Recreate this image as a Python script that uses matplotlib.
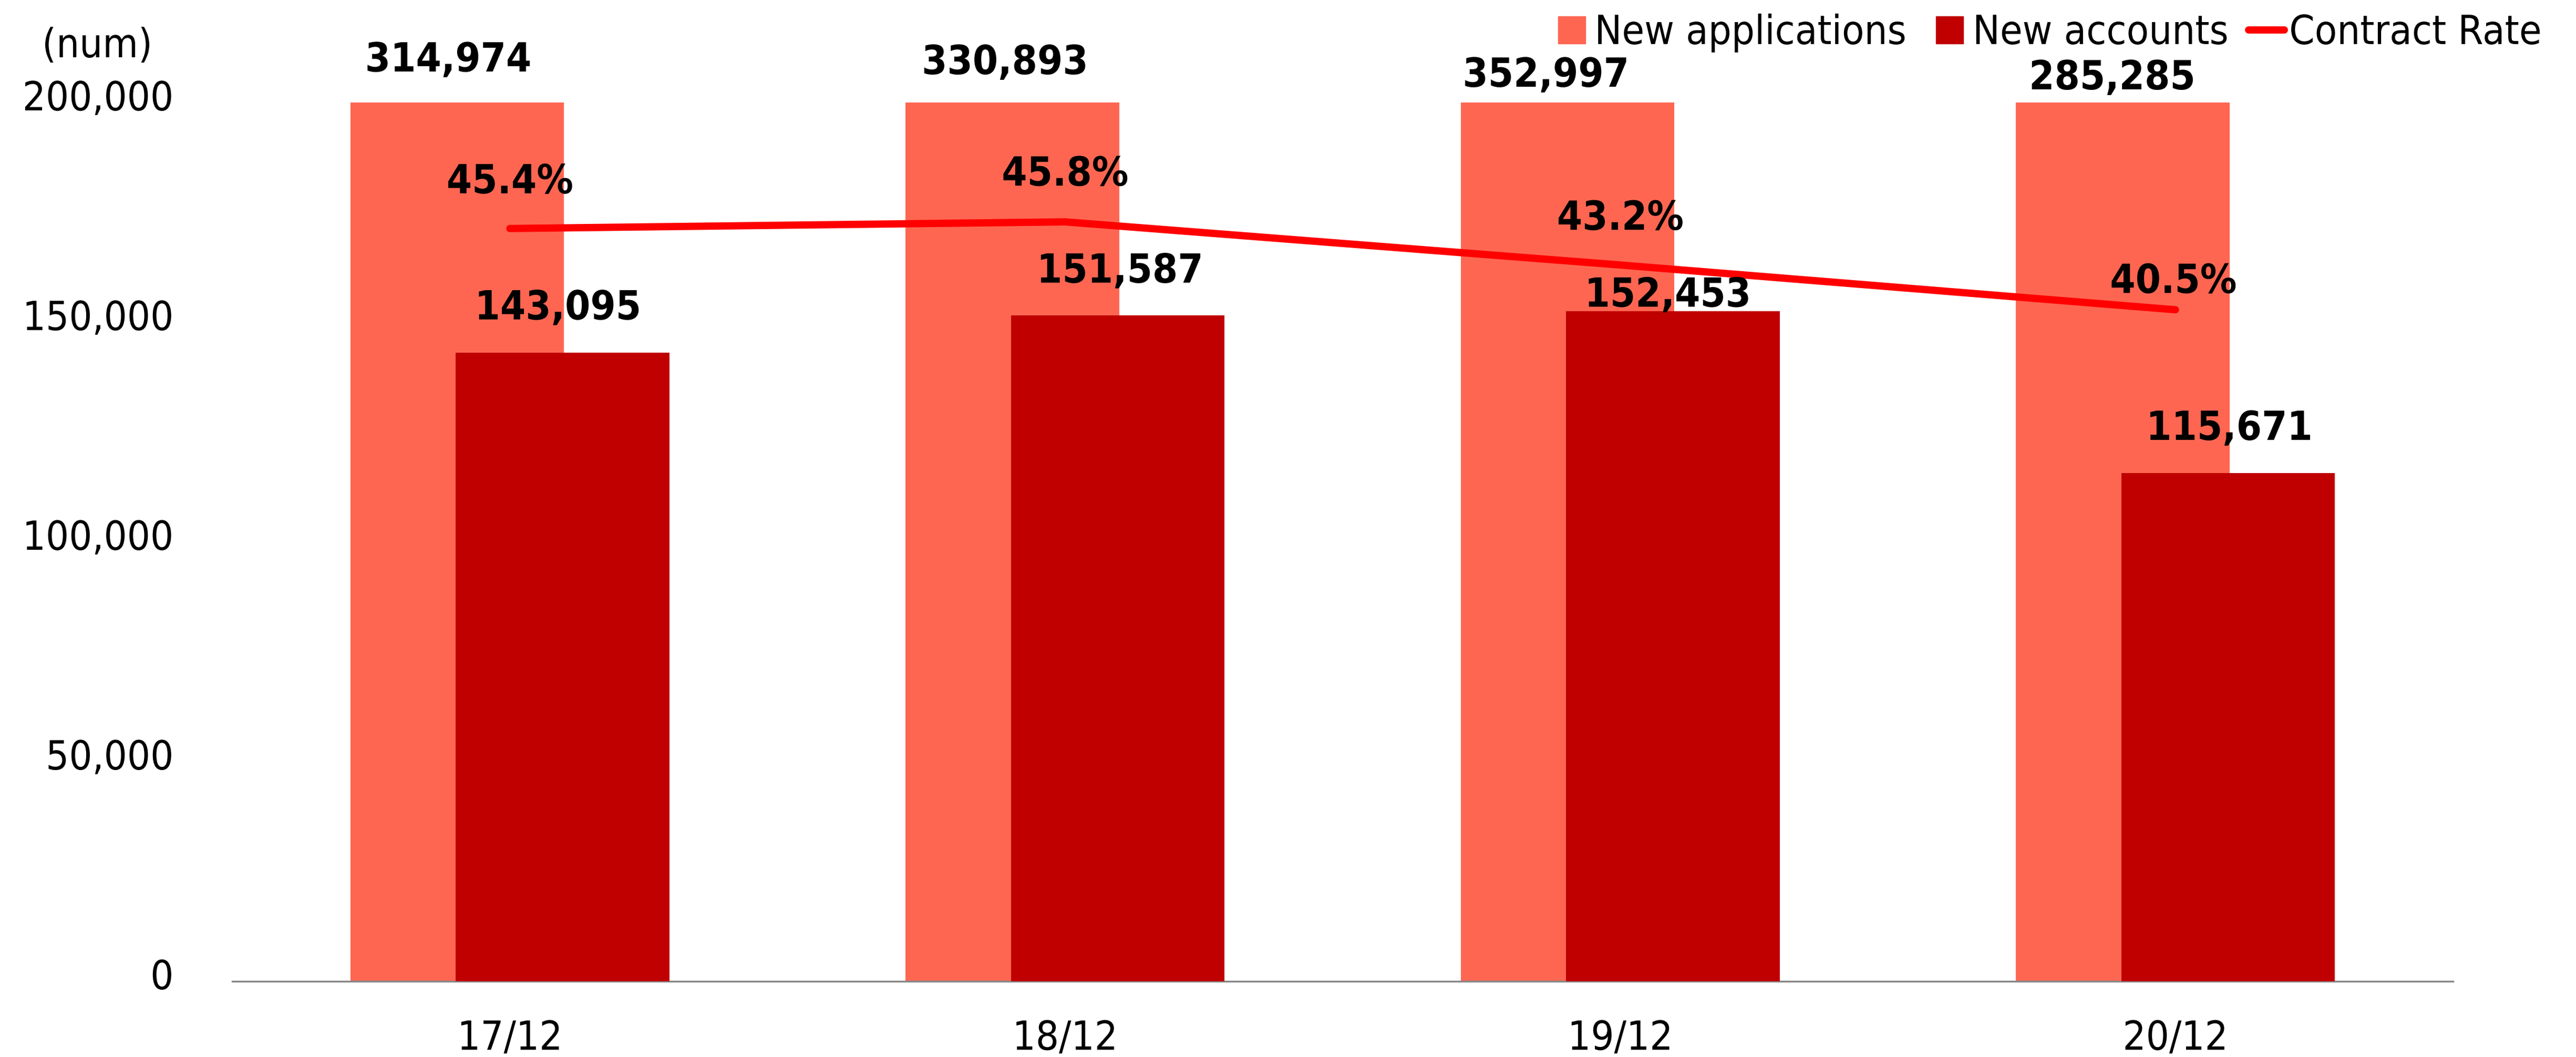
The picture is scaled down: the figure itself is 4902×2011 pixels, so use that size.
import numpy as np
import matplotlib
matplotlib.use('Agg')
import matplotlib.pyplot as plt
import matplotlib.patheffects as pe
from matplotlib.transforms import Affine2D, ScaledTranslation
from matplotlib.lines import Line2D
from matplotlib.ticker import FuncFormatter

# datos
periods = ['17/12', '18/12', '19/12', '20/12']
new_applications = [314974, 330893, 352997, 285285]
new_accounts = [143095, 151587, 152453, 115671]
contract_rate = [45.4, 45.8, 43.2, 40.5]

# colores
c_app = '#FF6652'
c_acc = '#C00000'
c_line = '#FF0000'

# ajustes de etiquetas (dx, dy en pixeles)
app_lbl_off = [(-17, 59), (-14, 54), (-41, 30), (-20, 25)]
acc_lbl_off = [(-9, 63), (4, 62), (-10, 9), (2, 63)]
pct_lbl_off = [(0, 67), (0, 69), (0, 67), (-4, 32)]


class Condense(pe.AbstractPathEffect):
    """Estrecha el texto en horizontal (la fuente original es condensada)."""
    def __init__(self, sx=0.91, anchor='center'):
        super().__init__()
        self.sx = sx
        self.anchor = anchor

    def draw_path(self, renderer, gc, tpath, affine, rgbFace=None):
        ext = tpath.get_extents(affine)
        if self.anchor == 'left':
            cx = ext.x0
        elif self.anchor == 'right':
            cx = ext.x1
        else:
            cx = (ext.x0 + ext.x1) / 2
        aff = affine + Affine2D().translate(-cx, 0).scale(self.sx, 1).translate(cx, 0)
        renderer.draw_path(gc, tpath, aff, rgbFace)


plt.rcParams['font.family'] = ['DejaVu Sans']
FS = 55
SX = 0.91

fig = plt.figure(figsize=(49.02, 20.11), dpi=100)
ax = fig.add_axes([442/4902, 1-1867/2011, (4668-442)/4902, (1867-195)/2011])

x = np.arange(len(periods))
w = 0.385
off = 0.095
ax.bar(x - off, new_applications, w, color=c_app, zorder=2)
ax.bar(x + off, new_accounts, w, color=c_acc, zorder=3)

ymax = 200000
ax.set_ylim(0, ymax)
ax.set_xlim(-0.5, len(periods) - 0.5)
ax.set_yticks(np.arange(0, ymax + 1, 50000))
ax.yaxis.set_major_formatter(FuncFormatter(lambda v, p: f'{int(v):,}'))
ax.set_xticks(x)
ax.set_xticklabels(periods)
ax.tick_params(axis='y', length=0, pad=80, labelsize=FS)
ax.tick_params(axis='x', length=0, pad=52, labelsize=FS)
for s in ['top', 'right', 'left']:
    ax.spines[s].set_visible(False)
ax.spines['bottom'].set_color('#888888')
ax.spines['bottom'].set_linewidth(2.5)

# subir un poco las etiquetas del eje y
shift = ScaledTranslation(0, 14/100, fig.dpi_scale_trans)
for lbl in ax.get_yticklabels():
    lbl.set_transform(lbl.get_transform() + shift)
    lbl.set_path_effects([Condense(SX, 'right')])
for lbl in ax.get_xticklabels():
    lbl.set_path_effects([Condense(SX)])

# tasa de contrato en eje secundario
ax2 = ax.twinx()
ax2.set_ylim(0, 53)
ax2.plot(x, contract_rate, color=c_line, lw=10, solid_capstyle='round', zorder=4)
ax2.axis('off')

# etiquetas de datos
lbl_kw = dict(textcoords='offset pixels', ha='center', va='baseline', fontsize=FS,
              fontweight='bold', annotation_clip=False, zorder=5,
              path_effects=[Condense(SX)])
for i in range(len(periods)):
    dx, dy = app_lbl_off[i]
    ax2.annotate(f'{new_applications[i]:,}', xy=(x[i] - off, min(new_applications[i], ymax)),
                 xycoords=ax.transData, xytext=(dx, dy), **lbl_kw)
    dx, dy = acc_lbl_off[i]
    ax2.annotate(f'{new_accounts[i]:,}', xy=(x[i] + off, new_accounts[i]),
                 xycoords=ax.transData, xytext=(dx, dy), **lbl_kw)
    dx, dy = pct_lbl_off[i]
    ax2.annotate(f'{contract_rate[i]:.1f}%', xy=(x[i], contract_rate[i]),
                 xytext=(dx, dy), **lbl_kw)

fig.text(185/4902, 1-88/2011, '(num)', ha='center', va='center', fontsize=FS,
         path_effects=[Condense(SX)])

handles = [
    Line2D([], [], marker='s', ls='none', color=c_app, markersize=37),
    Line2D([], [], marker='s', ls='none', color=c_acc, markersize=37),
    Line2D([], [], color=c_line, lw=10, solid_capstyle='round'),
]
leg = fig.legend(handles, ['New applications', 'New accounts', 'Contract Rate'],
                 loc='upper right', bbox_to_anchor=(4930/4902, 1 + 20/2011), ncol=3,
                 frameon=False, fontsize=FS, handlelength=0.88, handletextpad=0.12,
                 columnspacing=-0.12, borderpad=0.1)
for t in leg.get_texts():
    t.set_path_effects([Condense(SX, 'left')])

plt.savefig('out.png', dpi=100)
